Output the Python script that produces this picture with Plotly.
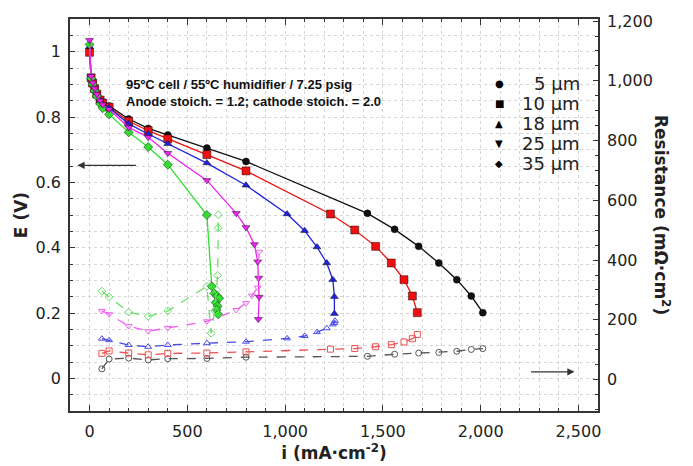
import plotly.graph_objects as go

# ---------------- data ----------------
labels = ["5 µm", "10 µm", "18 µm", "25 µm", "35 µm"]
colors = ["#111111", "#ee1111", "#2222dd", "#ee22ee", "#33dd33"]
open_colors = ["#555555", "#f05050", "#4a4ae8", "#f060f0", "#66e066"]
symbols = ["circle", "square", "triangle-up", "triangle-down", "diamond"]

i_E_5 = [0, 8, 16, 26, 37, 54, 67, 100, 200, 300, 400, 600, 800, 1421, 1560, 1683, 1786, 1878, 1952, 2011]
E_5 = [1.005, 0.922, 0.905, 0.888, 0.872, 0.855, 0.845, 0.834, 0.794, 0.765, 0.745, 0.705, 0.664, 0.505, 0.456, 0.404, 0.353, 0.302, 0.252, 0.201]
i_E_10 = [0, 8, 16, 26, 37, 54, 67, 100, 200, 300, 400, 600, 800, 1232, 1356, 1463, 1543, 1608, 1651, 1676]
E_10 = [0.998, 0.920, 0.904, 0.887, 0.870, 0.852, 0.843, 0.830, 0.787, 0.758, 0.733, 0.685, 0.635, 0.503, 0.454, 0.404, 0.353, 0.302, 0.252, 0.201]
i_E_18 = [0, 8, 16, 26, 37, 54, 67, 100, 200, 300, 400, 600, 800, 1010, 1100, 1163, 1213, 1244, 1252, 1252]
E_18 = [1.015, 0.920, 0.902, 0.885, 0.868, 0.850, 0.840, 0.828, 0.779, 0.748, 0.718, 0.659, 0.591, 0.503, 0.452, 0.402, 0.353, 0.302, 0.250, 0.198]
i_E_25 = [0, 8, 16, 26, 37, 54, 67, 100, 200, 300, 400, 600, 750, 800, 843, 860, 865, 867, 863]
E_25 = [1.035, 0.925, 0.905, 0.887, 0.870, 0.850, 0.838, 0.824, 0.768, 0.738, 0.689, 0.606, 0.505, 0.462, 0.410, 0.357, 0.307, 0.249, 0.181]
i_E_35 = [0, 8, 16, 26, 37, 54, 67, 100, 200, 300, 400, 600, 625, 638, 652, 663, 645, 655, 650, 658]
E_35 = [1.022, 0.918, 0.900, 0.880, 0.864, 0.840, 0.827, 0.808, 0.753, 0.708, 0.654, 0.500, 0.282, 0.260, 0.252, 0.245, 0.232, 0.221, 0.210, 0.196]

i_R_5 = [63, 100, 200, 300, 400, 600, 800, 1421, 1560, 1683, 1786, 1878, 1952, 2011]
R_5 = [36, 69, 72, 66, 70, 71, 75, 78, 85, 89, 91, 95, 101, 104]
i_R_10 = [63, 100, 200, 300, 400, 600, 800, 1232, 1356, 1463, 1543, 1608, 1651, 1676]
R_10 = [88, 96, 89, 83, 88, 89, 93, 102, 104, 110, 117, 126, 137, 151]
i_R_18 = [63, 100, 200, 300, 400, 600, 800, 1010, 1100, 1163, 1213, 1244, 1252, 1255]
R_18 = [137, 132, 116, 110, 116, 122, 127, 138, 146, 159, 172, 185, 190, 197]
i_R_25 = [63, 100, 200, 300, 400, 600, 750, 800, 830, 860, 867]
R_25 = [230, 219, 179, 162, 173, 195, 233, 256, 281, 308, 428]
i_R_35 = [63, 100, 200, 300, 400, 600, 622, 640, 650, 655, 658, 658]
R_35 = [296, 277, 226, 212, 230, 312, 155, 230, 300, 349, 508, 552]

x_ticks = [0, 500, 1000, 1500, 2000, 2500]
note_lines = ["95ºC cell / 55ºC humidifier / 7.25 psig",
              "Anode stoich. = 1.2; cathode stoich. = 2.0"]

E_series = [(i_E_5, E_5), (i_E_10, E_10), (i_E_18, E_18), (i_E_25, E_25), (i_E_35, E_35)]
R_series = [(i_R_5, R_5), (i_R_10, R_10), (i_R_18, R_18), (i_R_25, R_25), (i_R_35, R_35)]

fig = go.Figure()

# resistance curves (open markers, dashed)
for k, (xs, ys) in enumerate(R_series):
    fig.add_trace(go.Scatter(
        x=xs, y=ys, yaxis="y2", mode="lines+markers", showlegend=False,
        line=dict(color=open_colors[k], width=1.3, dash="dash"),
        marker=dict(symbol=symbols[k] + "-open", size=6, color=open_colors[k],
                    line=dict(width=1, color=open_colors[k])),
    ))

# polarization curves (filled markers, solid)
order = [0, 1, 2, 4, 3]
for k in order:
    xs, ys = E_series[k]
    fig.add_trace(go.Scatter(
        x=xs, y=ys, mode="lines+markers", showlegend=False,
        line=dict(color=colors[k], width=1.3),
        marker=dict(symbol=symbols[k], size=8 if k == 1 else 7, color=colors[k],
                    line=dict(width=0.8, color="rgba(0,0,0,0.55)")),
    ))

grid = dict(gridcolor="#d6d6d6", griddash="dot", gridwidth=1)
tickfont = dict(family="DejaVu Sans", size=16, color="#222222")

fig.update_layout(
    width=693, height=466,
    margin=dict(l=70, r=95, t=19, b=48),
    paper_bgcolor="white", plot_bgcolor="white",
    showlegend=False,
    xaxis=dict(
        range=[-100, 2600], tickvals=x_ticks, tickformat=",d",
        ticks="inside", ticklen=6, tickcolor="#333", tickwidth=1.2,
        showline=True, linecolor="#333", linewidth=1.6, mirror="ticks",
        showgrid=True, zeroline=False, tickfont=tickfont, ticklabelstandoff=5,
        minor=dict(dtick=100, tick0=0, ticks="inside", ticklen=3, tickcolor="#333",
                   showgrid=True, **grid),
        title=dict(text="<b>i (mA·cm<sup>-2</sup>)</b>",
                   font=dict(family="DejaVu Sans", size=17, color="#222"), standoff=1),
        **grid,
    ),
    yaxis=dict(
        range=[-0.1, 1.1], dtick=0.2, tick0=0,
        ticks="inside", ticklen=5, tickcolor="#333", tickwidth=1.2,
        showline=True, linecolor="#333", linewidth=1.6, mirror=False,
        showgrid=True, zeroline=False, tickfont=tickfont, ticklabelstandoff=4,
        minor=dict(dtick=0.05, tick0=0, ticks="inside", ticklen=3, tickcolor="#333",
                   showgrid=True, **grid),
        title=dict(text="<b>E (V)</b>",
                   font=dict(family="DejaVu Sans", size=17, color="#222"), standoff=4),
        **grid,
    ),
    yaxis2=dict(
        range=[-105, 1207], dtick=200, tick0=0, tickformat=",d",
        overlaying="y", side="right",
        ticks="inside", ticklen=5, tickcolor="#333", tickwidth=1.2,
        showline=True, linecolor="#333", linewidth=1.6,
        showgrid=False, zeroline=False, tickfont=tickfont, ticklabelstandoff=4,
        minor=dict(dtick=50, tick0=0, ticks="inside", ticklen=3, tickcolor="#333"),
    ),
)

annotations = []
# right axis title (reads top-to-bottom)
annotations.append(dict(
    text="<b>Resistance (mΩ·cm<sup>2</sup>)</b>", textangle=90,
    xref="paper", yref="paper", x=1.0, xshift=64, y=0.5, yshift=0,
    xanchor="center", yanchor="middle", showarrow=False,
    font=dict(family="DejaVu Sans", size=17, color="#222")))

# condition notes
for n, line in enumerate(note_lines):
    annotations.append(dict(
        text="<b>" + line + "</b>", xref="paper", yref="paper",
        x=(124 - 70) / 528, y=(418 - (86 + 17 * n)) / 399,
        xanchor="left", yanchor="middle", showarrow=False,
        font=dict(family="Liberation Sans", size=13, color="#111")))

# legend (symbol + right aligned label)
legend_glyphs = ["●", "■", "▲", "▼", "◆"]
for k, lab in enumerate(labels):
    yk = (418 - (85 + 20.3 * k)) / 399
    annotations.append(dict(
        text=lab, xref="paper", yref="paper", x=(582 - 70) / 528, y=yk,
        xanchor="right", yanchor="middle", showarrow=False,
        font=dict(family="DejaVu Sans", size=18, color="#222")))
    annotations.append(dict(
        text=legend_glyphs[k], xref="paper", yref="paper", x=(499 - 70) / 528, y=yk,
        xanchor="center", yanchor="middle", showarrow=False,
        font=dict(family="DejaVu Sans", size=10, color="#000")))

# arrows pointing to the relevant axes
annotations.append(dict(x=-62, y=0.652, ax=245, ay=0.652, xref="x", yref="y",
                        axref="x", ayref="y", text="", showarrow=True,
                        arrowhead=2, arrowsize=1.2, arrowwidth=1.2, arrowcolor="#333"))
annotations.append(dict(x=2480, y=0.020, ax=2250, ay=0.020, xref="x", yref="y",
                        axref="x", ayref="y", text="", showarrow=True,
                        arrowhead=2, arrowsize=1.2, arrowwidth=1.2, arrowcolor="#333"))

fig.update_layout(annotations=annotations)
fig.write_html("out.html")
